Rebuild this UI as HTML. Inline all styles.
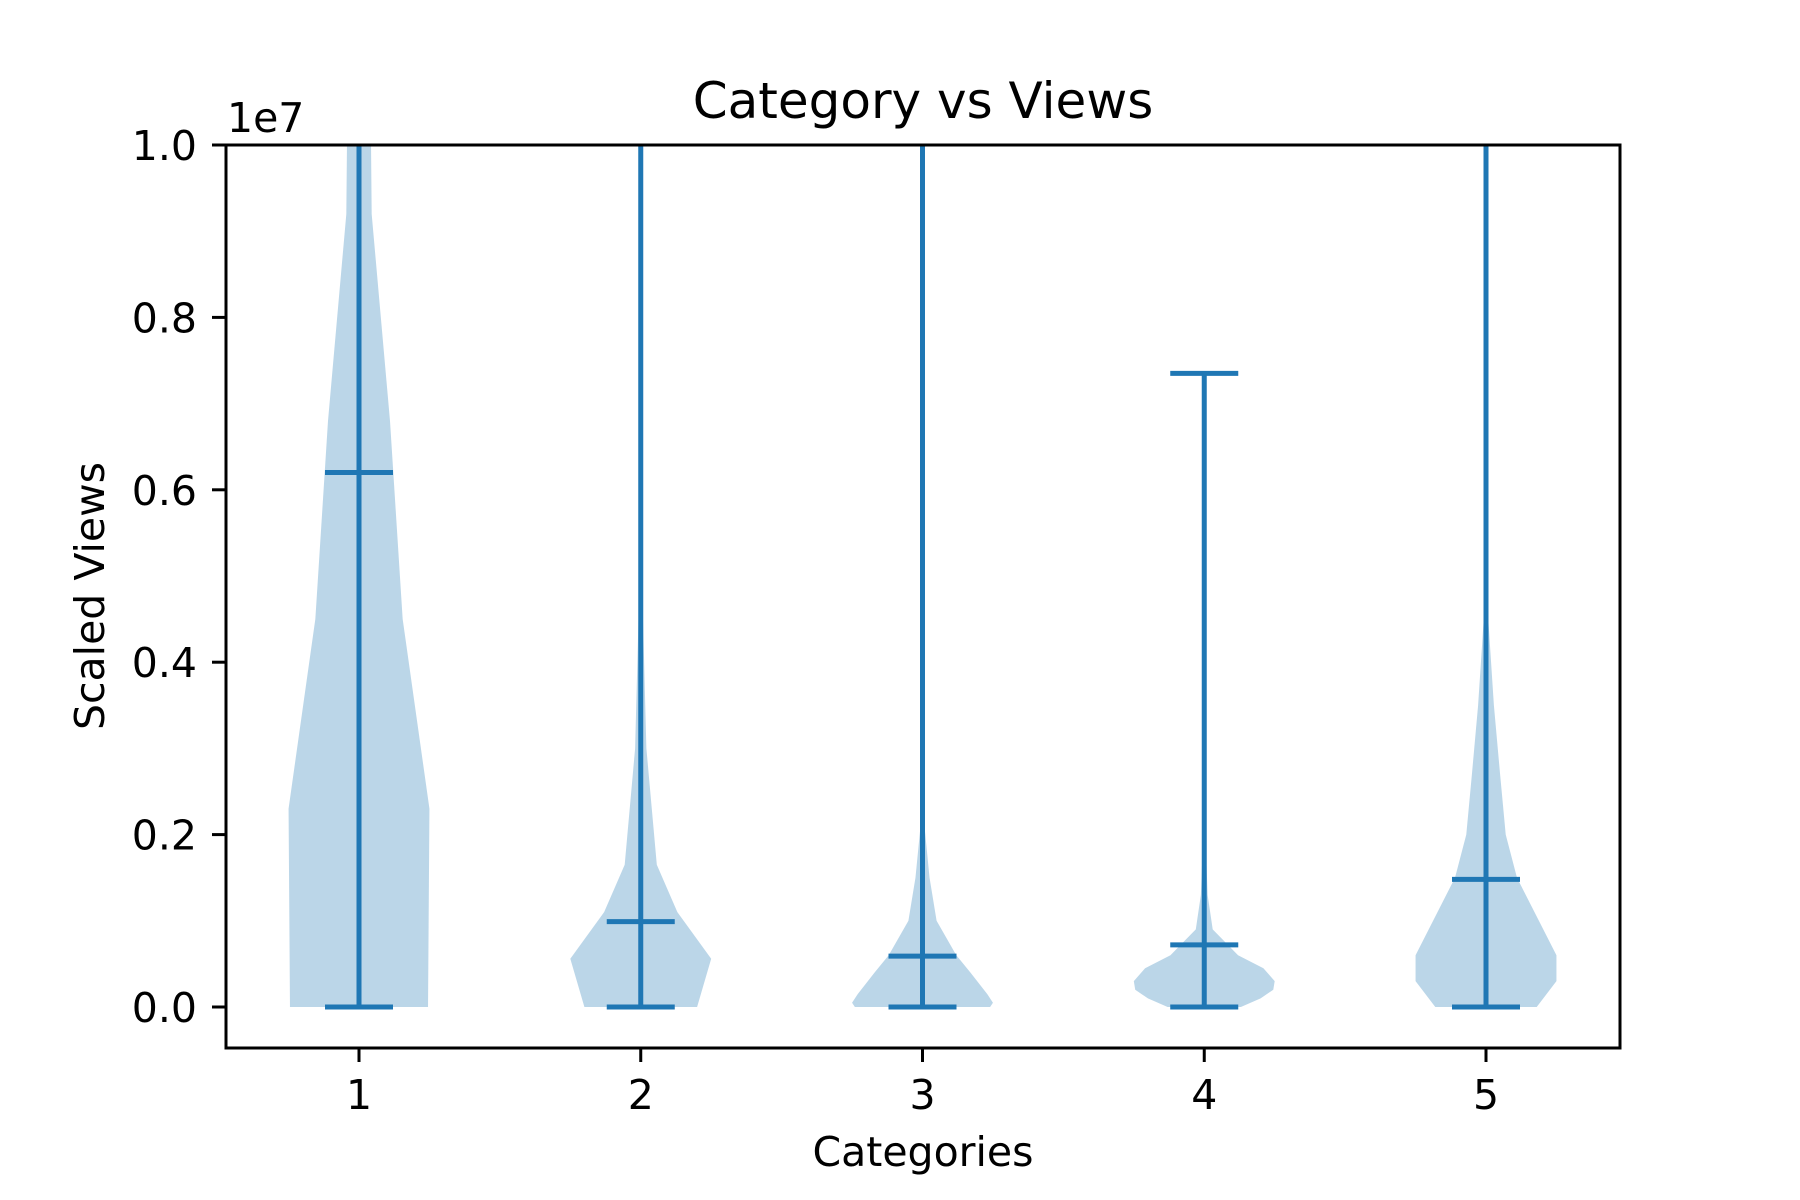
<!DOCTYPE html>
<html><head><meta charset="utf-8"><style>
html,body{margin:0;padding:0;background:#fff;}
svg{display:block;font-family:"DejaVu Sans","Liberation Sans",sans-serif;}
</style></head><body>
<svg id="chart" width="1800" height="1200" viewBox="0 0 1800 1200">
<defs><clipPath id="clip"><rect x="226" y="145" width="1394" height="903"/></clipPath></defs>
<rect x="0" y="0" width="1800" height="1200" fill="#fff"/>
<g id="plot" clip-path="url(#clip)"></g>
<rect x="226" y="145" width="1394" height="903" fill="none" stroke="#000" stroke-width="3"/>
<g id="axes"></g>
<text x="923" y="118" font-size="50" text-anchor="middle">Category vs Views</text>
<text x="227" y="132" font-size="41">1e7</text>
<text x="923" y="1166" font-size="41" text-anchor="middle">Categories</text>
<text transform="translate(104,596) rotate(-90)" font-size="41" text-anchor="middle">Scaled Views</text>
</svg>
<script>
const categories = [1, 2, 3, 4, 5];
const profileValues = [
  [0, 0.23, 0.45, 0.68, 0.92, 1.2],
  [0, 0.056, 0.11, 0.165, 0.3, 0.5, 1.2],
  [0, 0.005, 0.015, 0.04, 0.06, 0.1, 0.15, 0.22, 1.2],
  [0, 0.01, 0.02, 0.03, 0.045, 0.06, 0.09, 0.13, 0.2, 0.735],
  [0, 0.03, 0.06, 0.15, 0.2, 0.27, 0.35, 0.45, 1.2]
];
const profileWidths = [
  [0.245, 0.25, 0.155, 0.11, 0.045, 0.037],
  [0.2, 0.25, 0.13, 0.057, 0.02, 0.004, 0],
  [0.24, 0.25, 0.23, 0.17, 0.12, 0.05, 0.025, 0.004, 0],
  [0.13, 0.2, 0.245, 0.25, 0.21, 0.12, 0.03, 0.012, 0.004, 0],
  [0.18, 0.25, 0.25, 0.11, 0.07, 0.05, 0.028, 0.008, 0]
];
const means = [0.62, 0.099, 0.059, 0.072, 0.148];
const mins = [0, 0, 0, 0, 0];
const maxs = [1.2, 1.2, 1.2, 0.735, 1.2];
const yTicks = [0, 0.2, 0.4, 0.6, 0.8, 1.0];
const yTickLabels = ["0.0", "0.2", "0.4", "0.6", "0.8", "1.0"];

const NS = "http://www.w3.org/2000/svg";
const xPx = c => 359 + (c - 1) * 281.75;
const catPx = 281.75;
const yPx = v => 1007 - v * 862;
const blue = "#1f77b4";
const plot = document.getElementById("plot");
const axes = document.getElementById("axes");
function mk(tag, attrs, parent) {
  const e = document.createElementNS(NS, tag);
  for (const k in attrs) e.setAttribute(k, attrs[k]);
  parent.appendChild(e);
  return e;
}
categories.forEach((c, i) => {
  const cx = xPx(c);
  const vals = profileValues[i], ws = profileWidths[i];
  let right = vals.map((v, j) => (cx + ws[j] * catPx) + "," + yPx(v));
  let left = vals.map((v, j) => (cx - ws[j] * catPx) + "," + yPx(v)).reverse();
  const poly = mk("polygon", {points: right.concat(left).join(" "), fill: "rgba(31,119,180,0.3)"}, plot);
  
  
  const cap = 34;
  const stem = mk("line", {x1: cx, x2: cx, y1: yPx(mins[i]), y2: yPx(maxs[i]), stroke: blue, "stroke-width": 5}, plot);
  
  
  [["min", mins[i]], ["max", maxs[i]], ["mean", means[i]]].forEach(([n, v]) => {
    const l = mk("line", {x1: cx - cap, x2: cx + cap, y1: yPx(v), y2: yPx(v), stroke: blue, "stroke-width": 5}, plot);
    
    
  });
  const t = mk("line", {x1: cx, x2: cx, y1: 1048, y2: 1062, stroke: "#000", "stroke-width": 3}, axes);
  
  
  const lb = mk("text", {x: cx, y: 1109, "font-size": 41, "text-anchor": "middle"}, axes);
  lb.textContent = c;
  
  
});
yTicks.forEach((v, i) => {
  const y = yPx(v);
  const t = mk("line", {x1: 212, x2: 226, y1: y, y2: y, stroke: "#000", "stroke-width": 3}, axes);
  
  
  const lb = mk("text", {x: 197, y: y + 15, "font-size": 41, "text-anchor": "end"}, axes);
  lb.textContent = yTickLabels[i];
  
  
});
</script>
</body></html>
